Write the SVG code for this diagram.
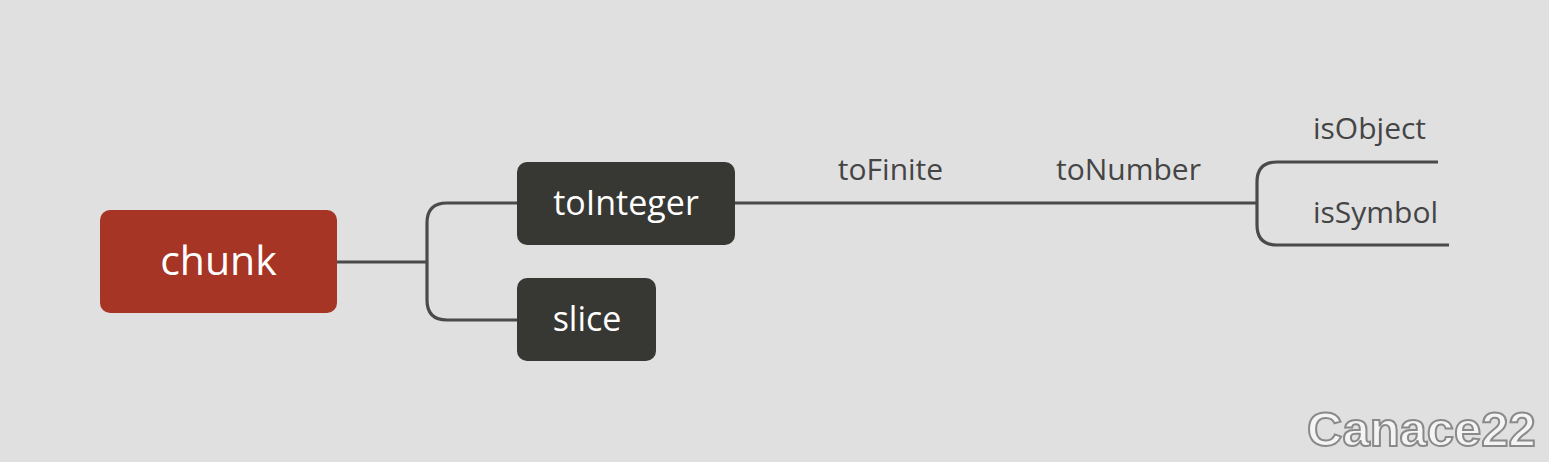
<svg xmlns="http://www.w3.org/2000/svg" width="1549" height="462" viewBox="0 0 1549 462">
<style>
.line{fill:none;stroke:#4a4a4a;stroke-width:3.2;stroke-linecap:butt}
.nodetxt{font-family:"Open Sans","Noto Sans",sans-serif;fill:#ffffff;text-anchor:middle}
.lbl{font-family:"Open Sans","Noto Sans",sans-serif;fill:#454545;font-size:30px}
.wm{font-family:"Liberation Sans",Arial,sans-serif;font-weight:bold;font-size:49px;fill:#f4f4f4;stroke:#8a8a8a;stroke-width:2}
</style>
<rect width="1549" height="462" fill="#e0e0e0"/>
<g id="connectors">
<path class="line" d="M337 262 H427"/>
<path class="line" d="M517 203 H447 Q427 203 427 223 V300 Q427 320 447 320 H517"/>
<path class="line" d="M735 203 H1257"/>
<path class="line" d="M1438 162 H1277 Q1257 162 1257 182 V225 Q1257 245 1277 245 H1449"/>
</g>
<g id="node-chunk">
<rect x="100" y="210" width="237" height="103" rx="10" fill="#a63525"/>
<text class="nodetxt" x="218.5" y="275" font-size="41">chunk</text>
</g>
<g id="node-toInteger">
<rect x="517" y="162" width="218" height="83" rx="10" fill="#373734"/>
<text class="nodetxt" x="626" y="215" font-size="34">toInteger</text>
</g>
<g id="node-slice">
<rect x="517" y="278" width="139" height="83" rx="10" fill="#373734"/>
<text class="nodetxt" x="587" y="331" font-size="34">slice</text>
</g>
<g id="node-toFinite">
<text class="lbl" x="890.5" y="180" text-anchor="middle">toFinite</text>
</g>
<g id="node-toNumber">
<text class="lbl" x="1128.5" y="180" text-anchor="middle">toNumber</text>
</g>
<g id="node-isObject">
<text class="lbl" x="1313" y="139">isObject</text>
</g>
<g id="node-isSymbol">
<text class="lbl" x="1313" y="223">isSymbol</text>
</g>
<text class="wm" x="1307" y="446">Canace22</text>
</svg>
